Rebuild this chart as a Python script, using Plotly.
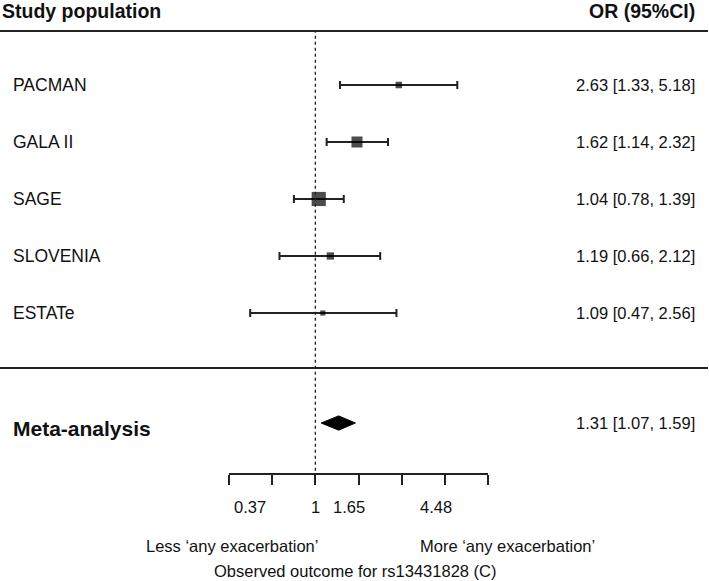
import math
import plotly.graph_objects as go

# ---- data ----
studies = ["PACMAN", "GALA II", "SAGE", "SLOVENIA", "ESTATe"]
or_est = [2.63, 1.62, 1.04, 1.19, 1.09]
ci_low = [1.33, 1.14, 0.78, 0.66, 0.47]
ci_high = [5.18, 2.32, 1.39, 2.12, 2.56]
weights = [8, 23, 38, 10, 5]  # estimated relative weights (marker area)

meta_label = "Meta-analysis"
meta_est = 1.31
meta_low = 1.07
meta_high = 1.59

tick_labels = ["0.37", "1", "1.65", "4.48"]
tick_values = [0.37, 1.0, 1.65, 4.48]
axis_ticks_log = [-1.0, -0.5, 0.0, 0.5, 1.0, 1.5, 2.0]

header_left = "Study population"
header_right = "OR (95%CI)"
less_label = "Less \u2018any exacerbation\u2019"
more_label = "More \u2018any exacerbation\u2019"
x_title = "Observed outcome for rs13431828 (C)"

# ---- styles / layout ----
W, H = 709, 581
L, R, T, B = 229, 221, 31, 108
FONT = "Liberation Sans, Arial, sans-serif"
INK = "#111111"
LINE = "#222222"
row_px = 57.0
first_row_px = 85.0
plot_h = H - T - B
plot_w = W - L - R


def k_of(py):
    return (py - first_row_px) / row_px


def px_paper(px):
    return (px - L) / plot_w


def py_paper(py):
    return (H - B - py) / plot_h


rows = list(range(len(studies)))
meta_row = k_of(423)

lx = [math.log(v) for v in or_est]
err_plus = [math.log(h) - math.log(v) for h, v in zip(ci_high, or_est)]
err_minus = [math.log(v) - math.log(lo) for lo, v in zip(ci_low, or_est)]
sizes = [2.3 * math.sqrt(w) for w in weights]

fig = go.Figure()

fig.add_trace(go.Scatter(
    x=lx, y=rows, mode="markers",
    marker=dict(symbol="square", size=2, color=LINE, opacity=0),
    error_x=dict(type="data", symmetric=False, array=err_plus, arrayminus=err_minus,
                 color=LINE, thickness=2, width=4),
    showlegend=False, hoverinfo="skip",
))
fig.add_trace(go.Scatter(
    x=lx, y=rows, mode="markers",
    marker=dict(symbol="square", size=sizes, color="#000000", line=dict(width=0)),
    showlegend=False, hoverinfo="skip",
))

dh = 0.125
fig.add_trace(go.Scatter(
    x=[math.log(meta_low), math.log(meta_est), math.log(meta_high), math.log(meta_est), math.log(meta_low)],
    y=[meta_row, meta_row - dh, meta_row, meta_row + dh, meta_row],
    mode="lines", fill="toself", fillcolor="#000000",
    line=dict(color="#000000", width=1), showlegend=False, hoverinfo="skip",
))

shapes = [
    dict(type="line", xref="x", yref="paper", x0=0, x1=0, y0=0.005, y1=1,
         line=dict(color=LINE, width=1.3, dash="dot")),
    dict(type="line", xref="paper", yref="paper", x0=px_paper(0), x1=px_paper(708),
         y0=1, y1=1, line=dict(color=LINE, width=2)),
    dict(type="line", xref="paper", yref="paper", x0=px_paper(0), x1=px_paper(708),
         y0=py_paper(368), y1=py_paper(368), line=dict(color=LINE, width=2)),
]


def text_ann(text, px, py, anchor, size, xref="paper", x=None, xshift=0):
    return dict(text=text, x=(px_paper(px) if x is None else x), y=py_paper(py),
                xref=xref, yref="paper", xanchor=anchor, yanchor="middle",
                showarrow=False, xshift=xshift,
                font=dict(family=FONT, size=size, color=INK))


ann = []
ann.append(text_ann("<b>%s</b>" % header_left, 0, 11, "left", 19.5))
ann.append(text_ann("<b>%s</b>" % header_right, 697, 11, "right", 19.5))
for i, s in enumerate(studies):
    py = first_row_px + i * row_px
    ann.append(text_ann(s, 11, py, "left", 17.5))
    ann.append(text_ann("%.2f [%.2f, %.2f]" % (or_est[i], ci_low[i], ci_high[i]), 697, py, "right", 16.5))
ann.append(text_ann("<b>%s</b>" % meta_label, 11, 428, "left", 21))
ann.append(text_ann("%.2f [%.2f, %.2f]" % (meta_est, meta_low, meta_high), 697, 423, "right", 16.5))

label_nudge_px = [20, 0, -10, -9]
for lab, v, nudge in zip(tick_labels, tick_values, label_nudge_px):
    ann.append(text_ann(lab, 0, 507, "center", 16.5, xref="x", x=math.log(v), xshift=nudge))

ann.append(text_ann(less_label, 232, 546, "center", 16.5))
ann.append(text_ann(more_label, 507, 546, "center", 16.5))
ann.append(text_ann(x_title, 355, 571, "center", 16.5))

fig.update_layout(
    width=W, height=H,
    margin=dict(l=L, r=R, t=T, b=B, pad=0),
    paper_bgcolor="white", plot_bgcolor="white",
    xaxis=dict(range=[-1.0005, 2.0005], showgrid=False, zeroline=False,
               showline=True, linecolor=LINE, linewidth=1.6,
               ticks="outside", ticklen=10, tickwidth=1.6, tickcolor=LINE,
               tickvals=axis_ticks_log, showticklabels=False, fixedrange=True),
    yaxis=dict(range=[k_of(H - B), k_of(T)], visible=False, fixedrange=True),
    shapes=shapes, annotations=ann,
)

fig.write_html("out.html", config={"displayModeBar": False},
               post_script="document.body.style.margin='0';document.body.style.overflow='hidden';")
